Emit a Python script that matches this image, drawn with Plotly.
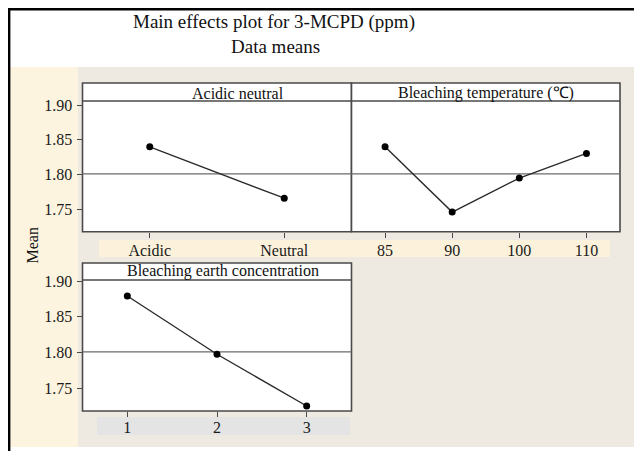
import plotly.graph_objects as go

# ---- data ----
acid_cats = ["Acidic", "Neutral"]
acid_means = [1.840, 1.766]

temp_cats = ["85", "90", "100", "110"]
temp_means = [1.840, 1.746, 1.795, 1.8305]

earth_cats = ["1", "2", "3"]
earth_means = [1.879, 1.7976, 1.7253]

grand_mean = 1.801
y_ticks = [1.75, 1.80, 1.85, 1.90]

panel_titles = ["Acidic neutral", "Bleaching temperature (\u2103)", "Bleaching earth concentration"]
title_line1 = "Main effects plot for 3-MCPD (ppm)"
title_line2 = "Data means"
y_title = "Mean"

# ---- geometry (pixels of the 642x451 window; page body has an 8px margin) ----
OFF = 8
W, H = 642 - OFF, 451 - OFF
def px(x):
    return (x - OFF) / W
def py(y):
    return 1 - (y - OFF) / H

FONT = "Liberation Serif, Times New Roman, serif"
FRAME = "#4a4a4a"

# panel boxes: (x0, x1, header_top, data_top, data_bottom)
p1 = (82.5, 351.5, 83, 101, 231.7)
p2 = (351.5, 620, 83, 101, 231.7)
p3 = (82.5, 351.5, 263, 280, 411)

fig = go.Figure()

line_style = dict(color="#2b2b2b", width=1.4)
marker_style = dict(color="black", size=7)

fig.add_trace(go.Scatter(x=acid_cats, y=acid_means, mode="lines+markers",
                         line=line_style, marker=marker_style, xaxis="x", yaxis="y",
                         showlegend=False, hoverinfo="x+y"))
fig.add_trace(go.Scatter(x=temp_cats, y=temp_means, mode="lines+markers",
                         line=line_style, marker=marker_style, xaxis="x2", yaxis="y2",
                         showlegend=False, hoverinfo="x+y"))
fig.add_trace(go.Scatter(x=earth_cats, y=earth_means, mode="lines+markers",
                         line=line_style, marker=marker_style, xaxis="x3", yaxis="y3",
                         showlegend=False, hoverinfo="x+y"))

tickfont = dict(family=FONT, size=16, color="#1a1a1a")

def xaxis(p, n, anchor, standoff):
    return dict(domain=[px(p[0]), px(p[1])], anchor=anchor, type="category",
                range=[-0.5, n - 0.5], showgrid=False, zeroline=False, showline=False,
                ticks="outside", ticklen=5, tickwidth=1, tickcolor=FRAME, automargin=False,
                tickfont=tickfont, ticklabelstandoff=standoff, fixedrange=True)

def yaxis(p, rng, anchor, show):
    return dict(domain=[py(p[4]), py(p[3])], anchor=anchor, range=rng,
                showgrid=False, zeroline=False, showline=False, automargin=False,
                tickvals=y_ticks if show else [], tickformat=".2f",
                ticks="outside" if show else "", ticklen=5, tickwidth=1, tickcolor=FRAME,
                tickfont=tickfont, showticklabels=show, ticklabelstandoff=1, fixedrange=True)

top_range = [1.7178, 1.9059]
bot_range = [1.7183, 1.9014]

fig.update_layout(
    width=W, height=H, margin=dict(l=0, r=0, t=0, b=0, pad=0), autosize=False,
    paper_bgcolor="white", plot_bgcolor="rgba(0,0,0,0)",
    xaxis=xaxis(p1, len(acid_cats), "y", -1),
    yaxis=yaxis(p1, top_range, "x", True),
    xaxis2=xaxis(p2, len(temp_cats), "y2", -1),
    yaxis2=yaxis(p2, top_range, "x2", False),
    xaxis3=xaxis(p3, len(earth_cats), "y3", -3),
    yaxis3=yaxis(p3, bot_range, "x3", True),
)

shapes = []
def rect(x0, y0, x1, y1, fill, line=None, width=0, layer="below"):
    shapes.append(dict(type="rect", xref="paper", yref="paper",
                       x0=px(x0), x1=px(x1), y0=py(y1), y1=py(y0),
                       fillcolor=fill, line=dict(color=line or fill, width=width),
                       layer=layer))

def hline(x0, x1, y, color, width, layer="below"):
    shapes.append(dict(type="line", xref="paper", yref="paper",
                       x0=px(x0), x1=px(x1), y0=py(y), y1=py(y),
                       line=dict(color=color, width=width), layer=layer))

def vline(x, y0, y1, color, width, layer="below"):
    shapes.append(dict(type="line", xref="paper", yref="paper",
                       x0=px(x), x1=px(x), y0=py(y0), y1=py(y1),
                       line=dict(color=color, width=width), layer=layer))

# background regions
rect(9, 67, 78, 447, "#FDF4DF")
rect(78, 67, 642, 447, "#EEEAE1")
rect(99, 240, 610, 257, "#FCF2DC")
rect(97, 417, 350, 435, "#E4E4E4")

# panels
for p in (p1, p2, p3):
    rect(p[0], p[2], p[1], p[4], "white", FRAME, 1.6)
    hline(p[0], p[1], p[3], FRAME, 1.5)

# grand mean reference lines
for xr, yr in (("x", "y"), ("x2", "y2"), ("x3", "y3")):
    shapes.append(dict(type="line", xref=xr + " domain", yref=yr, x0=0, x1=1,
                       y0=grand_mean, y1=grand_mean,
                       line=dict(color="#6a6a6a", width=1.2), layer="below"))

# outer black frame
hline(8, 642, 9.2, "black", 2.4, layer="above")
vline(9.2, 8, 451, "black", 2.4, layer="above")

fig.update_layout(shapes=shapes)

ann = []
ann.append(dict(text=title_line1, x=px(273.5), y=py(22), xref="paper", yref="paper",
                showarrow=False, xanchor="center", yanchor="middle",
                font=dict(family=FONT, size=19, color="#111")))
ann.append(dict(text=title_line2, x=px(275), y=py(46), xref="paper", yref="paper",
                showarrow=False, xanchor="center", yanchor="middle",
                font=dict(family=FONT, size=19, color="#111")))
header_pos = [(238, 93), (486, 93), (223, 271)]
for t, (hx, hy) in zip(panel_titles, header_pos):
    ann.append(dict(text=t, x=px(hx), y=py(hy), xref="paper", yref="paper",
                    showarrow=False, xanchor="center", yanchor="middle",
                    font=dict(family=FONT, size=16, color="#111")))
ann.append(dict(text=y_title, x=px(31.5), y=py(246), xref="paper", yref="paper",
                showarrow=False, xanchor="center", yanchor="middle", textangle=-90,
                font=dict(family=FONT, size=16, color="#111")))
fig.update_layout(annotations=ann)

fig.write_html("out.html")
